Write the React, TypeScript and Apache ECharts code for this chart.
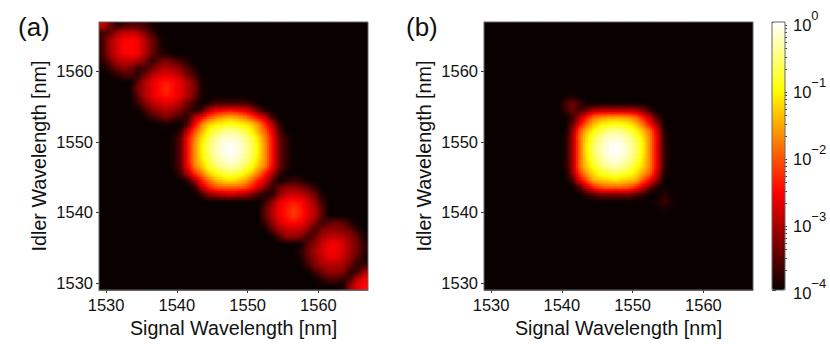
import React, { useEffect, useRef } from "react";
import * as echarts from "echarts";

// Wavelength cells (1 nm wide): x = 1529.5 + column, y = 1566.5 - row. Intensity in dB (10 dB = one decade).
const wavelengthMin = 1529;
const wavelengthMax = 1567;
const gridSize = 38;
const floorDb = -40;
const wavelengthTicks = [1530, 1540, 1550, 1560];
const colorbarTicks = [-4, -3, -2, -1, 0];
const colorbarMinorTicks = [-3.699, -3.523, -3.398, -3.301, -3.222, -3.155, -3.097, -3.046, -2.699, -2.523, -2.398, -2.301, -2.222, -2.155, -2.097, -2.046, -1.699, -1.523, -1.398, -1.301, -1.222, -1.155, -1.097, -1.046, -0.699, -0.523, -0.398, -0.301, -0.222, -0.155, -0.097, -0.046];

// each row: [row, first column, ...values in dB]
const panelARows = [
  [0, 0, -29, -33, -38, -37, -36, -36, -37, -39],
  [1, 0, -36, -36, -31, -29, -29, -30, -33, -37, -40],
  [2, 0, -37, -31, -28, -26, -25, -26, -30, -34, -38],
  [3, 0, -37, -31, -28, -25, -25, -26, -30, -34, -38],
  [4, 0, -37, -31, -28, -26, -25, -26, -30, -34, -38, -39],
  [5, 0, -38, -34, -30, -29, -29, -30, -33, -38, -35, -33, -35, -37, -39],
  [6, 0, -40, -37, -34, -32, -33, -37, -37, -34, -31, -30, -31, -33, -36, -39],
  [7, 2, -38, -36, -36, -38, -34, -30, -28, -27, -28, -30, -34, -37, -40],
  [8, 4, -40, -35, -30, -27, -25, -24, -25, -27, -30, -34, -39],
  [9, 4, -39, -33, -30, -27, -25, -23, -25, -27, -30, -33, -39],
  [10, 4, -40, -35, -30, -27, -25, -24, -25, -27, -30, -34, -39],
  [11, 5, -37, -33, -30, -28, -27, -28, -30, -34, -37, -40, -39, -37, -37, -37, -37, -37, -38, -40],
  [12, 5, -40, -36, -33, -31, -30, -31, -33, -36, -39, -37, -30, -27, -26, -25, -26, -27, -30, -35, -39],
  [13, 7, -37, -35, -33, -35, -37, -38, -30, -26, -21, -18, -16, -15, -16, -18, -21, -25, -29, -37],
  [14, 8, -40, -39, -40, -40, -36, -26, -18, -13, -11, -10, -9, -10, -11, -13, -17, -23, -30, -38],
  [15, 11, -38, -29, -21, -15, -10, -7, -5, -4, -5, -7, -10, -15, -20, -27, -36],
  [16, 10, -39, -35, -25, -18, -12, -7, -4, -2, -2, -2, -4, -7, -12, -18, -25, -34, -38],
  [17, 10, -39, -35, -25, -17, -11, -6, -3, -1, 0, -1, -3, -6, -11, -17, -25, -34, -38],
  [18, 10, -39, -35, -25, -17, -11, -6, -3, -1, 0, -1, -3, -6, -11, -17, -25, -34, -38],
  [19, 10, -39, -35, -25, -17, -12, -7, -4, -2, -1, -2, -4, -7, -12, -17, -25, -34, -38],
  [20, 10, -39, -35, -26, -18, -14, -9, -6, -4, -3, -4, -6, -9, -14, -18, -26, -34, -38],
  [21, 11, -37, -30, -23, -18, -13, -10, -8, -7, -8, -10, -13, -18, -24, -30, -37],
  [22, 12, -38, -31, -24, -19, -15, -13, -12, -13, -15, -19, -24, -28, -35, -40, -38, -37, -38, -40],
  [23, 13, -38, -29, -24, -21, -20, -20, -20, -21, -24, -28, -33, -38, -34, -32, -32, -33, -35, -38],
  [24, 14, -38, -33, -31, -30, -29, -30, -31, -33, -37, -39, -38, -32, -29, -28, -29, -31, -34, -39],
  [25, 23, -37, -32, -27, -25, -24, -25, -28, -32, -37],
  [26, 23, -35, -30, -26, -24, -22, -24, -27, -30, -35, -40],
  [27, 23, -35, -30, -26, -24, -22, -24, -27, -30, -35, -40],
  [28, 23, -37, -32, -28, -26, -25, -26, -29, -33, -37, -35, -34, -35, -38],
  [29, 24, -35, -31, -29, -29, -29, -32, -37, -33, -32, -32, -33, -34, -38],
  [30, 25, -36, -32, -32, -33, -37, -34, -31, -29, -29, -30, -32, -35, -39],
  [31, 28, -40, -35, -32, -29, -26, -26, -28, -31, -34, -38],
  [32, 28, -38, -34, -31, -28, -26, -26, -28, -31, -34, -38],
  [33, 28, -39, -35, -32, -29, -27, -27, -29, -32, -36, -39],
  [34, 29, -37, -33, -31, -30, -30, -31, -34, -38, -37],
  [35, 30, -37, -34, -32, -32, -33, -38, -37, -30],
  [36, 31, -38, -36, -36, -38, -36, -29, -26],
  [37, 34, -39, -31, -27, -25],
];

const panelBRows = [
  [10, 11, -40, -39, -40],
  [11, 11, -37, -34, -37],
  [12, 11, -37, -34, -37, -34, -31, -30, -30, -30, -30, -30, -31, -34, -38],
  [13, 11, -40, -37, -31, -24, -19, -17, -16, -16, -16, -17, -19, -24, -30, -37],
  [14, 12, -35, -26, -19, -14, -11, -10, -9, -10, -11, -14, -19, -25, -32],
  [15, 11, -40, -32, -20, -14, -10, -7, -5, -4, -5, -7, -10, -14, -19, -28, -39],
  [16, 11, -39, -31, -19, -12, -7, -4, -2, -2, -2, -4, -7, -12, -18, -27, -38],
  [17, 11, -39, -31, -19, -11, -6, -3, -1, 0, -1, -3, -6, -11, -18, -27, -38],
  [18, 11, -39, -31, -19, -11, -6, -3, -1, 0, -1, -3, -6, -11, -18, -27, -38],
  [19, 11, -39, -31, -19, -12, -7, -4, -2, -1, -2, -4, -7, -12, -18, -27, -38],
  [20, 11, -39, -31, -19, -13, -9, -6, -4, -3, -4, -6, -9, -13, -18, -27, -38],
  [21, 11, -40, -32, -22, -16, -12, -9, -8, -7, -8, -9, -12, -16, -20, -29, -39],
  [22, 12, -37, -27, -21, -15, -14, -13, -12, -13, -14, -15, -21, -26, -33],
  [23, 13, -36, -29, -24, -21, -20, -20, -20, -21, -24, -29, -35, -39],
  [24, 14, -38, -36, -34, -34, -34, -34, -34, -36, -38, -40, -40, -38],
  [25, 24, -39, -37, -39],
  [26, 25, -39],
];

function toGrid(rows: number[][]) {
  const grid: number[][] = [];
  for (let j = 0; j < gridSize; j++) {
    const row = rows.find((r) => r[0] === j);
    const line: number[] = [];
    for (let i = 0; i < gridSize; i++) {
      const k = row ? i - row[1] + 2 : -1;
      line.push(row && k >= 2 && k < row.length ? row[k] : floorDb);
    }
    grid.push(line);
  }
  return grid;
}

const toCells = (grid: number[][]) =>
  grid.flatMap((line, j) =>
    line.map((v, i) => [wavelengthMin + 0.5 + i, wavelengthMax - 0.5 - j, v])
  );

function hot(t: number) {
  const r = t < 0.365 ? 10 + (245 * t) / 0.365 : 255;
  const g = t < 0.365 ? 0 : t < 0.746 ? (255 * (t - 0.365)) / 0.381 : 255;
  const b = t < 0.746 ? 0 : (255 * (t - 0.746)) / 0.254;
  return `rgb(${Math.round(r)},${Math.round(g)},${Math.round(b)})`;
}

const FONT = "Liberation Sans";
const INK = "#111";
const SUB = 4; // display subdivision of a cell, like imshow's interpolation

// Each 1 nm data cell is painted with a bilinear display shading between cell centres.
const makeRenderCell = (grid: number[][]) => {
  const at = (fx: number, fy: number) => {
    const cx = Math.max(0, Math.min(gridSize - 1, fx));
    const cy = Math.max(0, Math.min(gridSize - 1, fy));
    const i0 = Math.floor(cx);
    const j0 = Math.floor(cy);
    const i1 = Math.min(gridSize - 1, i0 + 1);
    const j1 = Math.min(gridSize - 1, j0 + 1);
    const u = cx - i0;
    const w = cy - j0;
    return (
      (grid[j0][i0] * (1 - u) + grid[j0][i1] * u) * (1 - w) +
      (grid[j1][i0] * (1 - u) + grid[j1][i1] * u) * w
    );
  };
  return (_: any, api: any) => {
    const xv = api.value(0);
    const yv = api.value(1);
    const p = api.coord([xv - 0.5, yv + 0.5]);
    const s = api.size([1, 1]);
    const i = xv - wavelengthMin - 0.5;
    const j = wavelengthMax - 0.5 - yv;
    let flat = true;
    for (let a = -1; a <= 1; a++)
      for (let b = -1; b <= 1; b++) {
        const row = grid[j + a];
        if (row && row[i + b] !== undefined && row[i + b] !== floorDb) flat = false;
      }
    if (flat) {
      return {
        type: "rect",
        shape: { x: p[0], y: p[1], width: s[0] + 0.6, height: s[1] + 0.6 },
        style: { fill: api.visual("color") },
      };
    }
    const children: any[] = [];
    for (let a = 0; a < SUB; a++)
      for (let b = 0; b < SUB; b++) {
        const v = at(i - 0.5 + (b + 0.5) / SUB, j - 0.5 + (a + 0.5) / SUB);
        children.push({
          type: "rect",
          shape: {
            x: p[0] + (b * s[0]) / SUB,
            y: p[1] + (a * s[1]) / SUB,
            width: s[0] / SUB + 0.7,
            height: s[1] / SUB + 0.7,
          },
          style: { fill: hot((v - floorDb) / -floorDb) },
        });
      }
    return { type: "group", children };
  };
};

const xAxisFor = (gridIndex: number) => ({
  type: "value",
  gridIndex,
  min: wavelengthMin,
  max: wavelengthMax,
  name: "Signal Wavelength [nm]",
  nameLocation: "middle",
  nameGap: 27,
  nameTextStyle: { fontFamily: FONT, fontSize: 19.7, color: INK },
  axisLine: { show: true, onZero: false, lineStyle: { color: "#666", width: 1 } },
  axisTick: { show: true, length: 3, customValues: wavelengthTicks, lineStyle: { color: "#333" } },
  axisLabel: { customValues: wavelengthTicks, formatter: (v: number) => String(v), fontFamily: FONT, fontSize: 16.5, color: INK, margin: 6 },
  splitLine: { show: false },
});

const yAxisFor = (gridIndex: number) => ({
  type: "value",
  gridIndex,
  min: wavelengthMin,
  max: wavelengthMax,
  name: "Idler Wavelength [nm]",
  nameLocation: "middle",
  nameGap: 50,
  nameTextStyle: { fontFamily: FONT, fontSize: 19.7, color: INK },
  axisLine: { show: true, onZero: false, lineStyle: { color: "#666", width: 1 } },
  axisTick: { show: true, length: 3, customValues: wavelengthTicks, lineStyle: { color: "#333" } },
  axisLabel: { customValues: wavelengthTicks, formatter: (v: number) => String(v), fontFamily: FONT, fontSize: 16.5, color: INK, margin: 6 },
  splitLine: { show: false },
});

const frame = (x: number, y: number, w: number, h: number) => ({
  type: "rect",
  z: 50,
  shape: { x, y, width: w, height: h },
  style: { fill: "none", stroke: "#666", lineWidth: 1 },
});

const panelLabel = (text: string, x: number) => ({
  type: "text",
  left: x,
  top: 14,
  style: { text, fontFamily: FONT, fontSize: 26, fill: INK },
});

export default function App() {
  const ref = useRef<HTMLDivElement>(null);
  useEffect(() => {
    const gridA = toGrid(panelARows);
    const gridB = toGrid(panelBRows);
    const chart = echarts.init(ref.current!, undefined, { renderer: "svg" });
    chart.setOption({
      animation: false,
      backgroundColor: "#fff",
      grid: [
        { left: 99, top: 22, width: 269, height: 268, show: true, backgroundColor: "#0a0000", borderWidth: 0 },
        { left: 484, top: 22, width: 269, height: 268, show: true, backgroundColor: "#0a0000", borderWidth: 0 },
        { left: 772, top: 22, width: 13, height: 268 },
      ],
      xAxis: [
        xAxisFor(0),
        xAxisFor(1),
        { type: "value", gridIndex: 2, min: 0, max: 1, show: false },
      ],
      yAxis: [
        yAxisFor(0),
        yAxisFor(1),
        {
          type: "value",
          gridIndex: 2,
          position: "right",
          min: -4,
          max: 0,
          interval: 1,
          axisLine: { show: false },
          axisTick: { show: true, length: 4, lineStyle: { color: "#333" } },
          splitLine: { show: false },
          axisLabel: {
            margin: 8,
            formatter: (v: number) =>
              `{b|10}{s|${v === 0 ? "0" : "\u2212" + Math.abs(v)}}`,
            rich: {
              b: { fontFamily: FONT, fontSize: 16.5, color: INK, lineHeight: 16, padding: [8, 0, 3, 0] },
              s: { fontFamily: FONT, fontSize: 13, color: INK, lineHeight: 13, padding: [0, 0, 14, 0] },
            },
          },
          data: colorbarTicks,
        },
        {
          type: "value",
          gridIndex: 2,
          position: "right",
          min: -4,
          max: 0,
          axisLine: { show: false },
          axisLabel: { show: false },
          splitLine: { show: false },
          axisTick: { show: true, length: 2, customValues: colorbarMinorTicks, lineStyle: { color: "#444" } },
        },
      ],
      visualMap: {
        type: "continuous",
        seriesIndex: [0, 1],
        dimension: 2,
        min: floorDb,
        max: 0,
        left: 772,
        top: 22,
        padding: 0,
        itemWidth: 13,
        itemHeight: 268,
        showLabel: false,
        calculable: false,
        hoverLink: false,
        inRange: { color: Array.from({ length: 65 }, (_, k) => hot(k / 64)) },
      },
      series: [
        { type: "custom", xAxisIndex: 0, yAxisIndex: 0, data: toCells(gridA), renderItem: makeRenderCell(gridA), clip: true, encode: { x: 0, y: 1 } },
        { type: "custom", xAxisIndex: 1, yAxisIndex: 1, data: toCells(gridB), renderItem: makeRenderCell(gridB), clip: true, encode: { x: 0, y: 1 } },
      ],
      graphic: [
        frame(99, 22, 269, 268),
        frame(484, 22, 269, 268),
        frame(772, 22, 13, 268),
        panelLabel("(a)", 18),
        panelLabel("(b)", 406),
      ],
    });
    return () => chart.dispose();
  }, []);
  return <div ref={ref} style={{ position: "absolute", left: 0, top: 0, width: 830, height: 344 }} />;
}
